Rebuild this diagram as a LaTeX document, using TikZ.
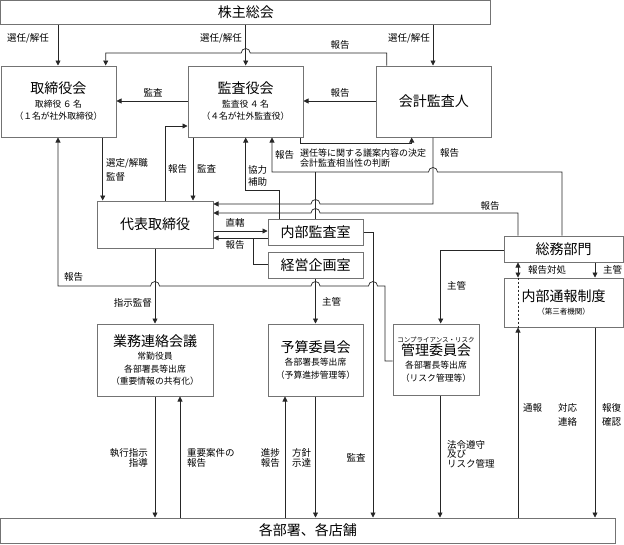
\documentclass[tikz,border=0pt]{standalone}
\usepackage{fontspec}
\setmainfont{Noto Sans CJK JP}
\usetikzlibrary{arrows.meta}
\newcommand\myT{\fontsize{14}{16}\selectfont}
\newcommand\myS{\fontsize{8.8}{12.5}\selectfont}
\begin{document}
\begin{tikzpicture}[x=1pt,y=-1pt,
  box/.style={draw=black!55,line width=1pt,fill=white,inner sep=0pt,align=center,font=\myS},
  con/.style={draw=black!85,line width=0.7pt},
  arr/.style={con,-{Triangle[length=5pt,width=5pt]}},
  lbl/.style={inner sep=0pt,font=\fontsize{9.5}{10.5}\selectfont,align=left}]
\useasboundingbox (0,0) rectangle (624,544);
% boxes
\node[box,font=\myT,minimum width=490pt,minimum height=23.5pt] (kabu) at (245.75,12.25) {株主総会};
\node[box,minimum width=115pt,minimum height=71pt] (tori) at (58.5,101.5) {{\myT 取締役会}\\[1pt]取締役\kern1.5pt６\kern1.5pt名\\（１名が社外取締役）};
\node[box,minimum width=115pt,minimum height=71pt] (kansa) at (245.5,101.5) {{\myT 監査役会}\\[1pt]監査役\kern1.5pt４\kern1.5pt名\\（４名が社外監査役）};
\node[box,font=\myT,minimum width=115.5pt,minimum height=71pt] (kaikei) at (433.75,101.5) {会計監査人};
\node[box,font=\myT,minimum width=116pt,minimum height=47pt] (daihyo) at (155,224.5) {代表取締役};
\node[box,font=\myT,minimum width=95pt,minimum height=26pt] (naibu) at (315.5,232) {内部監査室};
\node[box,font=\myT,minimum width=95pt,minimum height=26pt] (keiei) at (315.5,265) {経営企画室};
\node[box,font=\myT,minimum width=119pt,minimum height=26pt] (somu) at (563.5,249) {総務部門};
\node[box,minimum width=119pt,minimum height=49pt] (tsuho) at (563.5,302.5) {{\myT 内部通報制度}\\{\fontsize{7.5}{9}\selectfont （第三者機関）}};
\node[box,minimum width=116pt,minimum height=72pt] (gyomu) at (155,360) {{\myT 業務連絡会議}\\[1pt]常勤役員\\各部署長等出席\\（重要情報の共有化）};
\node[box,minimum width=95pt,minimum height=72pt] (yosan) at (315.5,360) {{\myT 予算委員会}\\[1pt]各部署長等出席\\（予算進捗管理等）};
\node[box,minimum width=86pt,minimum height=71pt] (kanri) at (436,359.5) {{\fontsize{6.5}{8}\selectfont コンプライアンス・リスク}\\[0.5pt]{\myT 管理委員会}\\[1pt]各部署長等出席\\（リスク管理等）};
\node[box,font=\myT,minimum width=614.5pt,minimum height=25pt] (kakubu) at (307.75,530.5) {各部署、各店舗};
% connectors
\draw[arr] (kabu.south -| 58,0) -- (tori.north -| 58,0);
\draw[arr] (kabu.south -| 245.7,0) -- (kansa.north -| 245.7,0);
\draw[arr] (kabu.south -| 433,0) -- (kaikei.north -| 433,0);
\draw[arr] (kaikei.north -| 386.7,0) -- (386.7,53) -- (250.2,53) arc[start angle=0,end angle=180,radius=4.5pt] -- (105.7,53) -- (tori.north -| 105.7,0);
\draw[arr] (kansa.west |- 0,101) -- (tori.east |- 0,101);
\draw[arr] (kaikei.west |- 0,101) -- (kansa.east |- 0,101);
\draw[arr] (kansa.south -| 300,0) -- (300,143.3) -- (411.7,143.3) -- (kaikei.south -| 411.7,0);
\draw[arr] (tori.south -| 102.7,0) -- (daihyo.north -| 102.7,0);
\draw[arr] (daihyo.north -| 165.7,0) -- (165.7,126) -- (kansa.west |- 0,126);
\draw[arr] (kansa.south -| 193,0) -- (daihyo.north -| 193,0);
\draw[arr] (kanri.west |- 0,361) -- (385,361) -- (385,286) -- (377.5,286) arc[start angle=0,end angle=180,radius=4.5pt] -- (320,286) arc[start angle=0,end angle=180,radius=4.5pt] -- (159.5,286) arc[start angle=0,end angle=180,radius=4.5pt] -- (58,286) -- (tori.south -| 58,0);
\draw[arr] (kaikei.south -| 433,0) -- (433,204) -- (320,204) arc[start angle=0,end angle=180,radius=4.5pt] -- (daihyo.east |- 0,204);
\draw[arr] (somu.north -| 562,0) -- (562,172) -- (437.5,172) arc[start angle=0,end angle=180,radius=4.5pt] -- (272,172) -- (kansa.south -| 272,0);
\draw[con] (naibu.north -| 315.5,0) -- (315.5,172);
\draw[arr] (naibu.north -| 279.3,0) -- (279.3,190.7) -- (245.7,190.7) -- (kansa.south -| 245.7,0);
\draw[arr] (somu.north -| 518,0) -- (518,213) -- (320,213) arc[start angle=0,end angle=180,radius=4.5pt] -- (daihyo.east |- 0,213);
\draw[arr] (daihyo.east |- 0,231) -- (naibu.west |- 0,231);
\draw[arr] (naibu.west |- 0,238) -- (daihyo.east |- 0,238);
\draw[con] (keiei.west |- 0,264) -- (253,264) -- (253,238);
\draw[arr] (naibu.east |- 0,232) -- (373,232) -- (kakubu.north -| 373,0);
\draw[arr] (keiei.south -| 315.5,0) -- (yosan.north -| 315.5,0);
\draw[arr] (daihyo.south -| 155,0) -- (gyomu.north -| 155,0);
\draw[arr] (somu.west |- 0,250) -- (440.7,250) -- (kanri.north -| 440.7,0);
\draw[con,{Triangle[length=5pt,width=5pt]}-{Triangle[length=5pt,width=5pt]}] (somu.south -| 518,0) -- (tsuho.north -| 518,0);
\draw[con,dash pattern=on 2.5pt off 1.5pt] (tsuho.north -| 518,0) -- (tsuho.south -| 518,0);
\draw[arr] (somu.south -| 595,0) -- (tsuho.north -| 595,0);
\draw[arr] (kakubu.north -| 518,0) -- (tsuho.south -| 518,0);
\draw[arr] (tsuho.south -| 595,0) -- (kakubu.north -| 595,0);
\draw[arr] (gyomu.south -| 155,0) -- (kakubu.north -| 155,0);
\draw[arr] (kakubu.north -| 180,0) -- (gyomu.south -| 180,0);
\draw[arr] (kakubu.north -| 285,0) -- (yosan.south -| 285,0);
\draw[arr] (yosan.south -| 315.5,0) -- (kakubu.north -| 315.5,0);
\draw[arr] (kanri.south -| 440,0) -- (kakubu.north -| 440,0);
% labels
\node[lbl,anchor=west] (l1) at (7,38) {選任/解任};
\node[lbl,anchor=east] (l2) at (242,38) {選任/解任};
\node[lbl,anchor=east] (l3) at (430,38) {選任/解任};
\node[lbl] (l4) at (340,45) {報告};
\node[lbl] (l5) at (153,93) {監査};
\node[lbl] (l6) at (340,93) {報告};
\node[lbl,anchor=west,font=\fontsize{9}{10}\selectfont] (l7) at (300,158) {選任等に関する議案内容の決定\\会計監査相当性の判断};
\node[lbl,anchor=west,font=\fontsize{9.5}{13.4}\selectfont] (l8) at (106,170) {選定/解職\\監督};
\node[lbl,anchor=west] (l9) at (168,169) {報告};
\node[lbl,anchor=west] (l10) at (197,169) {監査};
\node[lbl,anchor=west] (l11) at (64,277) {報告};
\node[lbl,anchor=west] (l12) at (440,153) {報告};
\node[lbl,anchor=west] (l13) at (275,155) {報告};
\node[lbl,anchor=west,font=\fontsize{9.5}{12.5}\selectfont] (l14) at (248,176) {協力\\補助};
\node[lbl] (l15) at (490,206) {報告};
\node[lbl] (l16) at (235,223) {直轄};
\node[lbl] (l17) at (235,245) {報告};
\node[lbl] (l18) at (356,458) {監査};
\node[lbl,anchor=west] (l19) at (322,302) {主管};
\node[lbl,anchor=east] (l20) at (152,303) {指示監督};
\node[lbl,anchor=west] (l21) at (447,286) {主管};
\node[lbl,anchor=west] (l22) at (528,270) {報告対処};
\node[lbl,anchor=west] (l23) at (603,270) {主管};
\node[lbl,anchor=west] (l24) at (523,408) {通報};
\node[lbl,anchor=west,font=\fontsize{9.5}{14}\selectfont] (l25) at (558,415) {対応\\連絡};
\node[lbl,anchor=west,font=\fontsize{9.5}{14}\selectfont] (l26) at (602,415) {報復\\確認};
\node[lbl,anchor=east,align=right] (l27) at (148,458) {執行指示\\指導};
\node[lbl,anchor=west] (l28) at (187,458) {重要案件の\\報告};
\node[lbl,anchor=east,align=right] (l29) at (280,458) {進捗\\報告};
\node[lbl,anchor=west] (l30) at (292,458) {方針\\示達};
\node[lbl,anchor=west,font=\fontsize{9.5}{9.5}\selectfont] (l31) at (447,454) {法令遵守\\及び\\リスク管理};
\end{tikzpicture}
\end{document}
